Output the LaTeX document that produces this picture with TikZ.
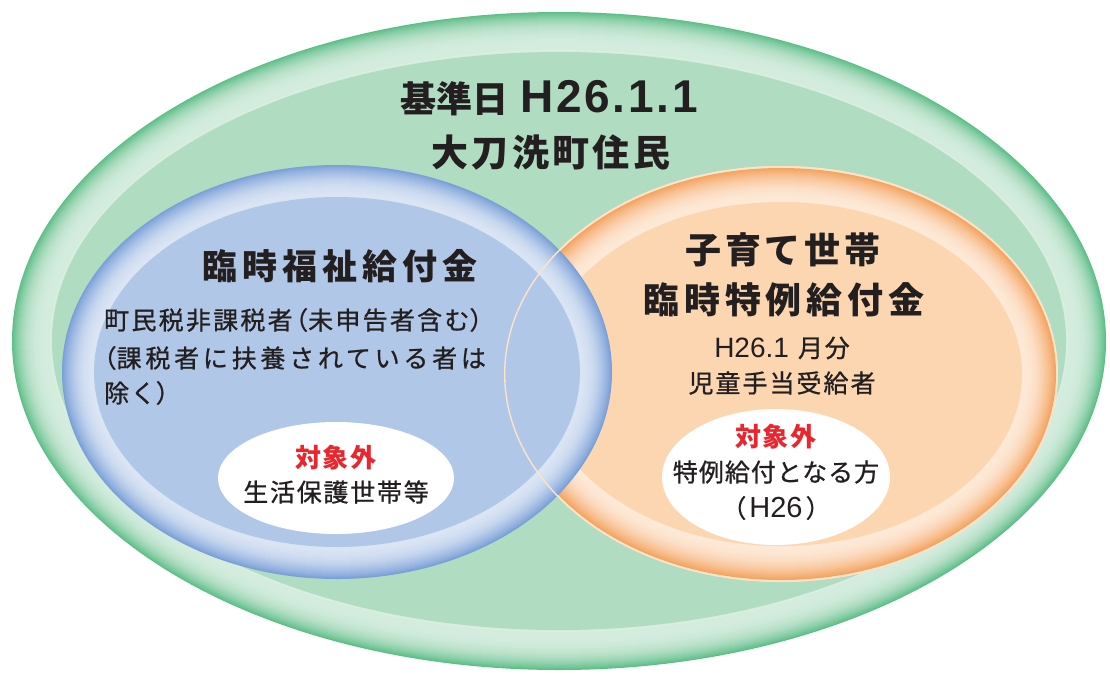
\documentclass[tikz,border=0pt]{standalone}
\usepackage{fontspec}
\setmainfont{Noto Sans CJK JP}
\newfontfamily\lat{Liberation Sans}
\newfontfamily\jpmed{Noto Sans CJK JP}[FakeBold=0.8]
\definecolor{gD}{HTML}{5DBE87}
\definecolor{gL}{HTML}{D4ECDE}
\definecolor{gI}{HTML}{B0DCC1}
\definecolor{bD}{HTML}{7AA0D8}
\definecolor{bL}{HTML}{DAE5F4}
\definecolor{bI}{HTML}{B1C7E7}
\definecolor{oD}{HTML}{F4A461}
\definecolor{oL}{HTML}{FDE9D6}
\definecolor{oI}{HTML}{FCD6B1}
\definecolor{oC}{HTML}{FDE3C8}
\definecolor{txt}{HTML}{231F20}
\definecolor{redt}{HTML}{E9262E}
% #1 cx, #2 cy, #3 rx, #4 ry, #5 rim width, #6 dark colour, #7 light colour, #8 exponent
\newcommand{\rimell}[8]{%
  \foreach \d in {0,...,#5}{%
    \pgfmathsetmacro\pp{100*(1-(1-\d/#5)^#8)}%
    \pgfmathsetmacro\rxx{#3-\d}%
    \pgfmathsetmacro\ryy{#4-\d}%
    \fill[#7!\pp!#6] (#1,#2) ellipse [x radius=\rxx pt, y radius=\ryy pt];
  }%
}
\newcommand{\hp}[1]{{\addfontfeature{RawFeature=+halt}#1}}
\tikzset{
  lbl/.style={inner sep=0pt, text=txt, align=center},
  bigt/.style={lbl, font=\fontsize{36}{40}\selectfont\bfseries},
  bodyt/.style={lbl, font=\fontsize{25}{30}\selectfont\jpmed},
  redt/.style={lbl, text=redt, font=\fontsize{26}{30}\selectfont\bfseries\addfontfeature{LetterSpace=4}},
}
\begin{document}
\begin{tikzpicture}[x=1pt,y=-1pt]
\fill[white] (0,0) rectangle (1110,673);
\useasboundingbox (0,0) rectangle (1110,673);
% green outer ellipse
\rimell{559}{341}{547}{329}{38}{gD}{gL}{3}
\draw[white!55!gI, line width=0.8pt] (559,341) ellipse [x radius=508.5pt, y radius=290.5pt];
\fill[gI] (559,341) ellipse [x radius=507pt, y radius=289pt];
% orange ellipse
\fill[oC] (781,374) ellipse [x radius=277pt, y radius=208pt];
\rimell{781}{374}{275}{206}{32}{oD}{oL}{2}
\fill[oI] (781,374) ellipse [x radius=241pt, y radius=172pt];
% blue ellipse
\rimell{337}{372}{275}{207}{31}{bD}{bL}{2}
\fill[bI] (337,372) ellipse [x radius=243pt, y radius=175pt];
% orange outline over the overlap
\draw[oC, line width=1.4pt] (781,374) ellipse [x radius=276.3pt, y radius=207.3pt];
% white inner ellipses
\fill[white] (336,478) ellipse [x radius=118pt, y radius=56pt];
\fill[white] (776,477) ellipse [x radius=114pt, y radius=68pt];
% texts
\node[bigt] (t1) at (549,98) {基準日\hspace{12pt}{\lat\fontsize{46}{50}\selectfont\bfseries\addfontfeature{LetterSpace=6}H26.1.1}};
\node[bigt, font=\fontsize{37}{40}\selectfont\bfseries\addfontfeature{LetterSpace=9}] (t2) at (551,153) {大刀洗町住民};
\node[bigt, font=\fontsize{35}{40}\selectfont\bfseries\addfontfeature{LetterSpace=14}] (bT) at (340,266) {臨時福祉給付金};
\node[bodyt, anchor=west, font=\fontsize{25}{30}\selectfont\jpmed\addfontfeature{LetterSpace=9}] (b1) at (104,320) {町民税非課税者\hspace{3pt}\hp{（}未申告者含む\hp{）}};
\node[bodyt, anchor=west, font=\fontsize{25}{30}\selectfont\jpmed\addfontfeature{LetterSpace=15}] (b2) at (104,358) {\hp{（}課税者に扶養されている者は};
\node[bodyt, anchor=west, font=\fontsize{25}{30}\selectfont\jpmed\addfontfeature{LetterSpace=6}] (b3) at (104,393) {除く\hp{）}};
\node[redt] (bx) at (336,458) {対象外};
\node[bodyt, font=\fontsize{25}{30}\selectfont\jpmed\addfontfeature{LetterSpace=7}] (by) at (336,492) {生活保護世帯等};
\node[bigt, font=\fontsize{36}{40}\selectfont\bfseries\addfontfeature{LetterSpace=11}] (oT1) at (783,250) {子育て世帯};
\node[bigt, font=\fontsize{36}{40}\selectfont\bfseries\addfontfeature{LetterSpace=13}] (oT2) at (784,300) {臨時特例給付金};
\node[bodyt] (o1) at (782,348) {{\lat\fontsize{28}{30}\selectfont H26.1}\hspace{9pt}{\addfontfeature{LetterSpace=7}月分}};
\node[bodyt, font=\fontsize{25}{30}\selectfont\jpmed\addfontfeature{LetterSpace=8}] (o2) at (782,383) {児童手当受給者};
\node[redt] (ox) at (776,437) {対象外};
\node[bodyt, font=\fontsize{25}{30}\selectfont\jpmed\addfontfeature{LetterSpace=4}] (oy) at (776,472) {特例給付となる方};
\node[bodyt] (oz) at (776,508) {\hp{（}\hspace{3pt}{\lat\fontsize{29}{30}\selectfont H26}\hspace{3pt}\hp{）}};
\end{tikzpicture}
\end{document}
